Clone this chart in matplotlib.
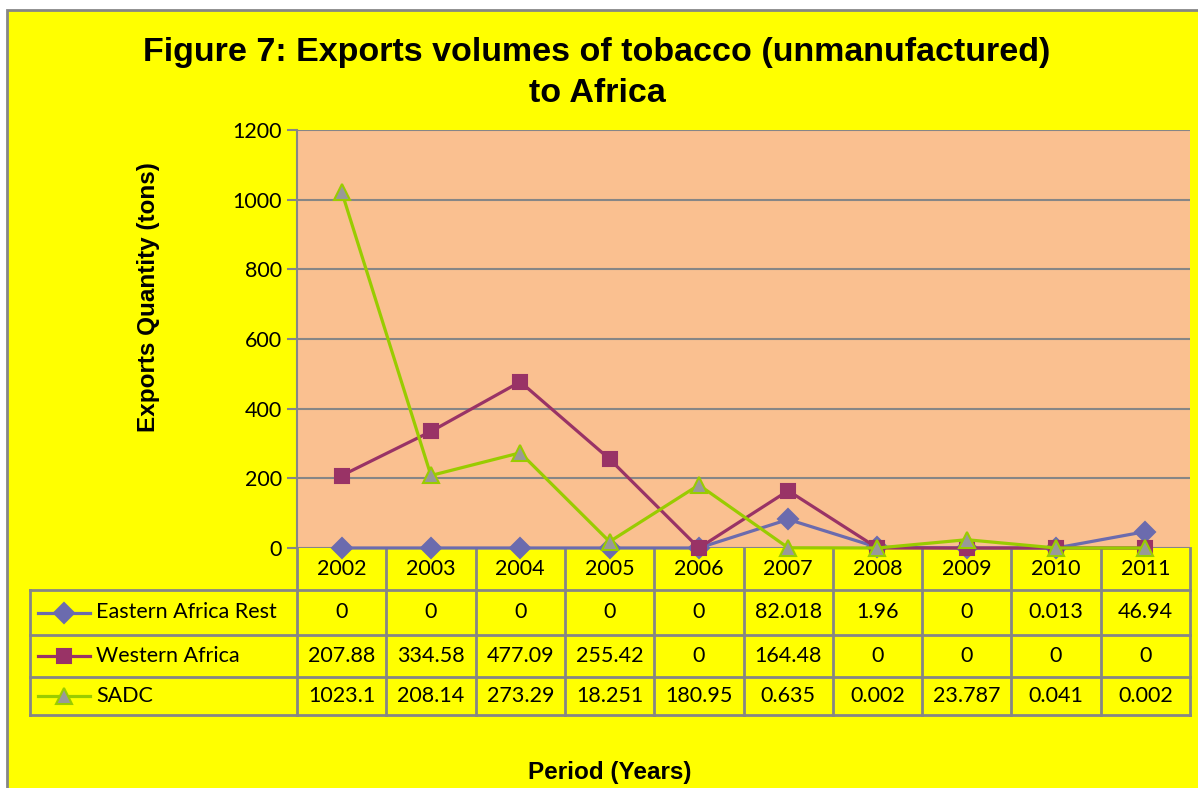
import numpy as np
import matplotlib.pyplot as plt
from matplotlib.patches import Rectangle
from matplotlib.lines import Line2D

years = ['2002', '2003', '2004', '2005', '2006', '2007', '2008', '2009', '2010', '2011']
eastern = [0, 0, 0, 0, 0, 82.018, 1.96, 0, 0.013, 46.94]
western = [207.88, 334.58, 477.09, 255.42, 0, 164.48, 0, 0, 0, 0]
sadc = [1023.1, 208.14, 273.29, 18.251, 180.95, 0.635, 0.002, 23.787, 0.041, 0.002]
eastern_txt = ['0', '0', '0', '0', '0', '82.018', '1.96', '0', '0.013', '46.94']
western_txt = ['207.88', '334.58', '477.09', '255.42', '0', '164.48', '0', '0', '0', '0']
sadc_txt = ['1023.1', '208.14', '273.29', '18.251', '180.95', '0.635', '0.002', '23.787', '0.041', '0.002']
series_names = ['Eastern Africa Rest', 'Western Africa', 'SADC']

W, H = 1198, 788
GRID = '#868686'
TXT_FONT = 'Lato'
TXT_SIZE = 15.5

fig = plt.figure(figsize=(W / 100, H / 100), dpi=100, facecolor='white')

# background overlay in pixel coordinates
bg = fig.add_axes([0, 0, 1, 1])
bg.set_xlim(0, W)
bg.set_ylim(H, 0)
bg.axis('off')
bg.add_patch(Rectangle((7, 10), W + 20, H + 20, facecolor='#FFFF00',
                       edgecolor=GRID, linewidth=2))

# plot area
x0, x1, ytop, ybot = 297, 1190, 130, 548
ax = fig.add_axes([x0 / W, 1 - ybot / H, (x1 - x0) / W, (ybot - ytop) / H])
ax.set_facecolor('#FAC090')
x = np.arange(len(years))
styles = [
    (eastern, '#6B6BAE', 'D', '#6B6BAE', '#6B6BAE', 10),
    (western, '#993366', 's', '#993366', '#993366', 10),
    (sadc, '#99CC00', '^', '#999999', '#99CC00', 12),
]
for vals, col, mk, fc, ec, ms in styles:
    ax.plot(x, vals, color=col, linewidth=2.3, marker=mk, markersize=ms,
            markerfacecolor=fc, markeredgecolor=ec, markeredgewidth=1.5,
            clip_on=False, zorder=3)
ax.set_xlim(-0.5, len(years) - 0.5)
ax.set_ylim(0, 1200)
ax.set_yticks(range(0, 1201, 200))
ax.grid(axis='y', color=GRID, linewidth=1.5)
ax.set_axisbelow(True)
ax.set_xticks([])
for s in ['top', 'right', 'bottom']:
    ax.spines[s].set_visible(False)
ax.spines['left'].set_color(GRID)
ax.spines['left'].set_linewidth(1.5)
ax.tick_params(axis='y', length=7, color=GRID, width=1.5, labelsize=TXT_SIZE, pad=4)
for lab in ax.get_yticklabels():
    lab.set_fontfamily(TXT_FONT)

# titles
fig.text(597 / W, 1 - 52 / H, 'Figure 7: Exports volumes of tobacco (unmanufactured)',
         ha='center', va='center', fontsize=24.5, fontweight='bold',
         family='Liberation Sans')
fig.text(597 / W, 1 - 93 / H, 'to Africa', ha='center', va='center',
         fontsize=24.5, fontweight='bold', family='Liberation Sans')
fig.text(148 / W, 1 - 297 / H, 'Exports Quantity (tons)', rotation=90,
         ha='center', va='center', fontsize=17.5, fontweight='bold',
         family='Liberation Sans')
fig.text(610 / W, 1 - 773 / H, 'Period (Years)', ha='center', va='center',
         fontsize=17.5, fontweight='bold', family='Liberation Sans')

# data table
cw = (x1 - x0) / len(years)
rows = [548, 590, 635, 677, 715]
lk = dict(color=GRID, linewidth=2)
bg.plot([30, x1], [rows[1]] * 2, **lk)
for r in rows[2:]:
    bg.plot([30, x1], [r, r], **lk)
bg.plot([30, 30], [rows[1], rows[-1]], **lk)
for k in range(len(years) + 1):
    bg.plot([x0 + k * cw] * 2, [rows[0], rows[-1]], **lk)

for k, yr in enumerate(years):
    cx = x0 + (k + 0.5) * cw
    bg.text(cx, (rows[0] + rows[1]) / 2, yr, ha='center', va='center',
            fontsize=TXT_SIZE, family=TXT_FONT)
    for j, txt in enumerate([eastern_txt, western_txt, sadc_txt]):
        bg.text(cx, (rows[j + 1] + rows[j + 2]) / 2, txt[k], ha='center',
                va='center', fontsize=TXT_SIZE, family=TXT_FONT)

for j, (name, st) in enumerate(zip(series_names, styles)):
    _, col, mk, fc, ec, ms = st
    cy = (rows[j + 1] + rows[j + 2]) / 2
    bg.add_line(Line2D([38, 90], [cy, cy], color=col, linewidth=2.3))
    bg.add_line(Line2D([64], [cy], marker=mk, markersize=ms, markerfacecolor=fc,
                       markeredgecolor=ec, markeredgewidth=1.5))
    bg.text(96, cy, name, ha='left', va='center', fontsize=TXT_SIZE, family=TXT_FONT)

fig.savefig('out.png', dpi=100, facecolor=fig.get_facecolor())
